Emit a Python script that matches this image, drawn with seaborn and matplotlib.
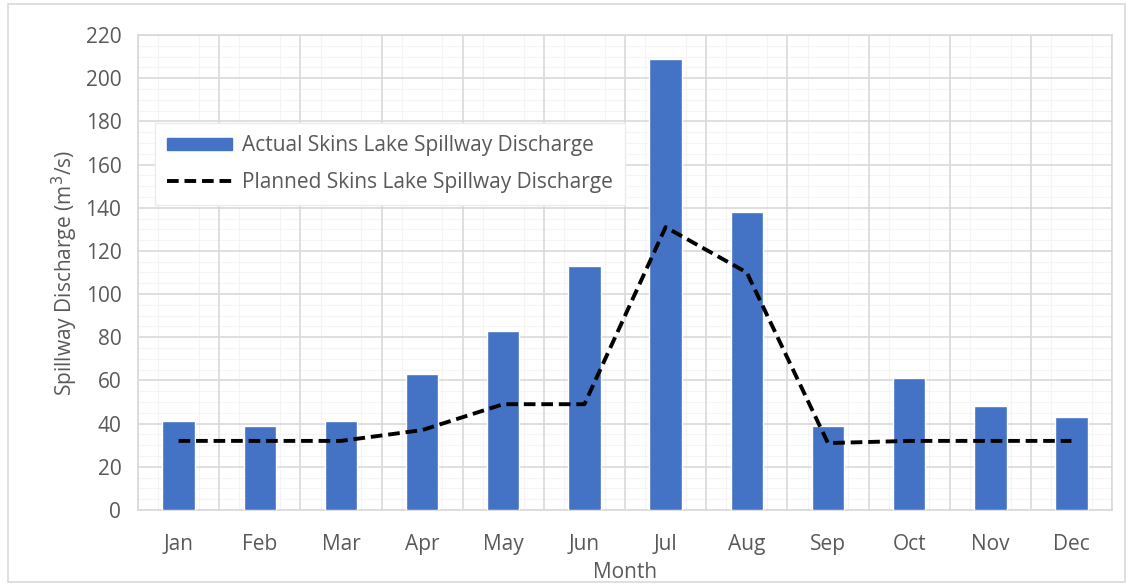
import matplotlib
matplotlib.use("Agg")
import matplotlib.pyplot as plt
import matplotlib.patches as mpatches
from matplotlib.ticker import MultipleLocator
import seaborn as sns
import pandas as pd

months = ["Jan", "Feb", "Mar", "Apr", "May", "Jun",
          "Jul", "Aug", "Sep", "Oct", "Nov", "Dec"]
actual = [41, 39, 41, 63, 83, 113, 209, 138, 39, 61, 48, 43]
planned = [32, 32, 32, 37, 49, 49, 131, 110, 31, 32, 32, 32]

df = pd.DataFrame({"Month": months, "Actual": actual, "Planned": planned})

sns.set_theme(style="white")
plt.rcParams["font.family"] = ["Open Sans", "DejaVu Sans"]
text_color = "#595959"
bar_color = "#4472C4"
dash = (0, (3.0, 1.5))

fig = plt.figure(figsize=(11.33, 5.86), dpi=100)
ax = fig.add_axes([0.1218, 0.1297, 0.8597, 0.8106])

sns.barplot(data=df, x="Month", y="Actual", color=bar_color, saturation=1,
            width=0.4, ax=ax, zorder=3)
sns.lineplot(x=list(range(len(months))), y=planned, ax=ax, color="black",
             linewidth=2.8, linestyle=dash, zorder=4)

ax.set_ylim(0, 220)
ax.set_xlim(-0.5, len(months) - 0.5)
ax.yaxis.set_major_locator(MultipleLocator(20))
ax.yaxis.set_minor_locator(MultipleLocator(5))
ax.set_xticks(range(len(months)))
ax.set_xticklabels(months)
ax.set_xticks([i - 0.25 for i in range(len(months))] +
              [i + 0.25 for i in range(len(months))], minor=True)

ax.grid(which="major", axis="y", color="#d9d9d9", linewidth=1.2, zorder=0)
ax.grid(which="minor", axis="both", color="#f4f4f4", linewidth=0.8, zorder=0)
for xb in [i - 0.5 for i in range(len(months) + 1)]:
    ax.axvline(xb, color="#d9d9d9", linewidth=1.2, zorder=1)
ax.set_axisbelow(True)

for side in ["top", "right", "left", "bottom"]:
    ax.spines[side].set_visible(True)
    ax.spines[side].set_color("#d9d9d9")
    ax.spines[side].set_linewidth(1.2)

ax.tick_params(axis="both", which="both", length=0, labelsize=15,
               labelcolor=text_color)
ax.tick_params(axis="x", pad=17)
ax.tick_params(axis="y", pad=12)

ax.set_xlabel("Month", fontsize=15, color=text_color, labelpad=5)
ax.set_ylabel("Spillway Discharge (m$^3$/s)", fontsize=15, color=text_color,
              labelpad=4)

handles = [mpatches.Patch(color=bar_color),
           plt.Line2D([], [], color="black", linewidth=2.8, linestyle=dash)]
labels = ["Actual Skins Lake Spillway Discharge",
          "Planned Skins Lake Spillway Discharge"]
leg = ax.legend(handles, labels, loc="upper left",
                bbox_to_anchor=(0.017, 0.815), fontsize=15, frameon=True,
                fancybox=False, framealpha=1, edgecolor="#ebebeb",
                handlelength=3.1, handleheight=0.55, labelspacing=0.75,
                borderpad=0.6, borderaxespad=0, handletextpad=0.5)
for t in leg.get_texts():
    t.set_color(text_color)

fig.patches.append(mpatches.Rectangle((0.007, 0.007), 0.986, 0.986,
                                      transform=fig.transFigure, fill=False,
                                      edgecolor="#d9d9d9", linewidth=1.2))

fig.savefig("out.png", dpi=100)
